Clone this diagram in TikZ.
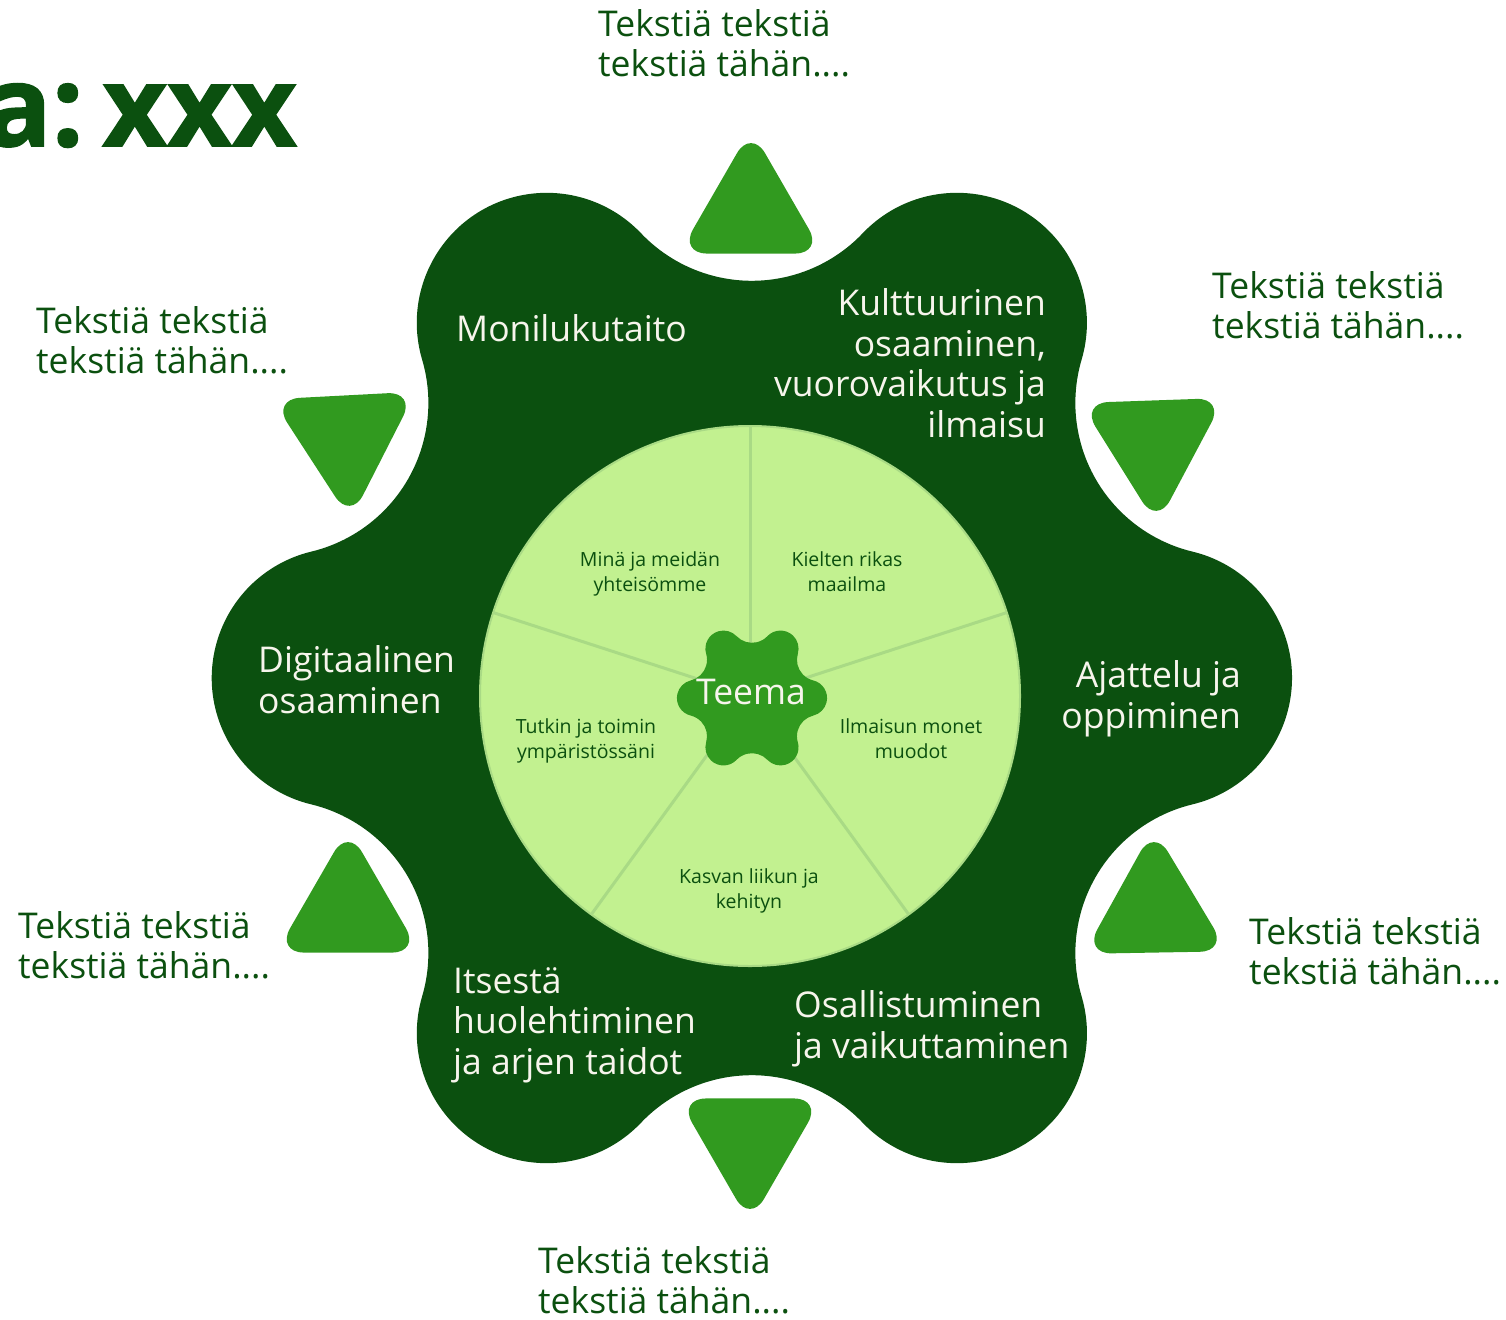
\documentclass[tikz,border=0pt]{standalone}
\usepackage{fontspec}
\setmainfont{Open Sans}
\newfontfamily\headfont{Open Sans}[FakeBold=1.5]
\usepackage{tikz}
\usetikzlibrary{
    calc,
    positioning
}
\definecolor{leafdark}{HTML}{0B500F}
\definecolor{leafmid}{HTML}{319A1F}
\definecolor{leafpale}{HTML}{C2F190}
\definecolor{leafline}{HTML}{A9DA85}
\definecolor{cream}{HTML}{F7F5EC}
\tikzset{
    % six-lobed blob, lobes r=130 at 410, fillets r=153
    pics/blob/.style={code={
        \fill[#1] (440.47,-126.38)
            \foreach \k in {0,...,5}{
                arc[start angle={60*\k-76.44}, end angle={60*\k+76.44}, radius=130]
                arc[start angle={60*\k+256.44}, end angle={60*\k+163.56}, radius=153]
            } -- cycle;
    }},
    tri/.style={fill=leafmid, rounded corners=28pt},
    pieline/.style={draw=leafline, line width=3pt},
    lobetext/.style={text=cream, inner sep=0pt, font=\fontsize{35.5}{40.5}\selectfont},
    sidetext/.style={text=leafdark, inner sep=0pt, align=left, anchor=base west,
        font=\fontsize{35.5}{40}\selectfont},
    pietext/.style={text=leafdark, inner sep=0pt, align=center, anchor=base,
        font=\fontsize{19.5}{25}\selectfont},
}
\begin{document}
\begin{tikzpicture}[x=1pt, y=-1pt]
    \useasboundingbox (0,0) rectangle (1506,1319);
    % big flower
    \pic at (752,678) {blob=leafdark};
    % triangles
    \foreach \cx/\cy/\rot in {751/212/0, 1154/442/182, 1155/911/1,
                              750/1140/180, 348/911/0, 346/437/183}
        \fill[tri, shift={(\cx,\cy)}, rotate=\rot]
            (270:83.1) -- (30:83.1) -- (150:83.1) -- cycle;
    % pie
    \coordinate (pie) at (750,696);
    \fill[leafpale, draw=leafline, line width=2pt] (pie) circle[radius=270];
    \foreach \a in {-90,-18,54,126,198}
        \draw[pieline] (pie) -- ++(\a:270);
    \pic[scale=0.139] at (752,698) {blob=leafmid};
    \node[lobetext, anchor=base] (teema) at (751,704) {Teema};
    % title (anchors are on the last baseline)
    \node[anchor=base east, inner sep=0pt, text=leafdark,
          font=\fontsize{112}{112}\headfont\bfseries] (title) at (297,146) {a:\hspace{-20pt} xxx};
    % lobe labels
    \node[lobetext, anchor=base west] (moni) at (456,341) {Monilukutaito};
    \node[lobetext, align=right, anchor=base east] (kult) at (1046,437)
        {Kulttuurinen\\osaaminen,\\vuorovaikutus ja\\ilmaisu};
    \node[lobetext, align=left, anchor=base west] (digi) at (258,713) {Digitaalinen\\osaaminen};
    \node[lobetext, align=right, anchor=base east] (ajat) at (1241,728) {Ajattelu ja\\oppiminen};
    \node[lobetext, align=left, anchor=base west] (itse) at (453,1074)
        {Itsestä\\huolehtiminen\\ja arjen taidot};
    \node[lobetext, align=left, anchor=base west] (osal) at (794,1058)
        {Osallistuminen\\ja vaikuttaminen};
    % pie labels
    \node[pietext] (mina) at (650,591) {Minä ja meidän\\yhteisömme};
    \node[pietext] (kiel) at (847,591) {Kielten rikas\\maailma};
    \node[pietext] (tutk) at (586,758) {Tutkin ja toimin\\ympäristössäni};
    \node[pietext] (ilma) at (911,758) {Ilmaisun monet\\muodot};
    \node[pietext] (kasv) at (749,908) {Kasvan liikun ja\\kehityn};
    % side texts
    \foreach \nm/\px/\py in {tekA/598/77, tekB/1212/338, tekC/36/373,
                             tekD/18/978, tekE/1249/984, tekF/538/1313}
        \node[sidetext] (\nm) at (\px,\py) {Tekstiä tekstiä\\tekstiä tähän....};
\end{tikzpicture}
\end{document}
